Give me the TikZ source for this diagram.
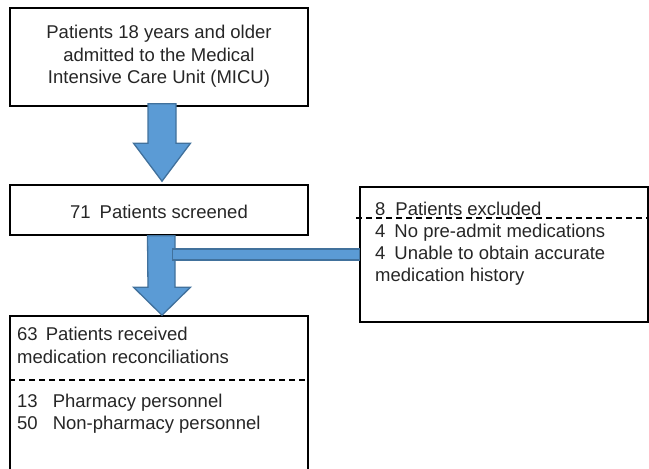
\documentclass[tikz,border=0pt]{standalone}
\usepackage{fontspec}
\setmainfont{Liberation Sans}
\usetikzlibrary{calc}
\definecolor{arrfill}{HTML}{5B9BD5}
\definecolor{arrdraw}{HTML}{41719C}
\begin{document}
\begin{tikzpicture}[x=1pt,y=-1pt,
  box/.style={draw=black, line width=1.6pt, rectangle, inner sep=0pt},
  txt/.style={font=\fontsize{18.5}{22.5}\selectfont, inner sep=0pt, text=black!85},
  barrow/.style={fill=arrfill, draw=arrdraw, line width=1.3pt, line join=miter},
  sepline/.style={dash pattern=on 6pt off 4pt, line width=1.6pt}]
\useasboundingbox (0,0) rectangle (649,469);
\clip (0,0) rectangle (649,469);
% boxes
\node[box, minimum width=298pt, minimum height=98pt] (b1) at (159,57) {};
\node[box, minimum width=298pt, minimum height=50pt] (b2) at (159,210) {};
\node[box, minimum width=288pt, minimum height=135pt] (b3) at (504,254.5) {};
\node[box, minimum width=298pt, minimum height=170pt] (b4) at (159,401) {};
% texts
\node[txt, anchor=base] (t1a) at (159,38.5) {Patients 18 years and older};
\node[txt, anchor=base] (t1b) at (159,61) {admitted to the Medical};
\node[txt, anchor=base] (t1c) at (159,83.5) {Intensive Care Unit (MICU)};
\node[txt, anchor=base] (t2) at (159,218) {71\hspace{9pt}Patients screened};
\node[txt, anchor=base west] (t3a) at (375,215) {8\hspace{10pt}Patients excluded};
\node[txt, anchor=base west] (t3b) at (375,237) {4\hspace{9pt}No pre-admit medications};
\node[txt, anchor=base west] (t3c) at (375,259) {4\hspace{9pt}Unable to obtain accurate};
\node[txt, anchor=base west] (t3d) at (375,281) {medication history};
\node[txt, anchor=base west] (t4a) at (17,340) {63\hspace{8pt}Patients received};
\node[txt, anchor=base west] (t4b) at (17,363) {medication reconciliations};
\node[txt, anchor=base west] (t4c) at (17,407) {13\hspace{15pt}Pharmacy personnel};
\node[txt, anchor=base west] (t4d) at (17,429) {50\hspace{15pt}Non-pharmacy personnel};
% dashed separators
\draw[sepline] ($(b3.north west)+(-3,32)$) -- ($(b3.north east)+(2,32)$);
\draw[sepline] ($(b4.north west)+(0,65)$) -- ($(b4.north east)+(0,65)$);
% block arrow 1
\coordinate (a1s) at ($(b1.south)+(3,-3)$);
\coordinate (a1t) at ($(b2.north)+(3,-3)$);
\draw[barrow] ($(a1s)+(-14,0)$) -- ($(a1s)+(14,0)$) -- ($(a1t)+(14,-38)$) -- ($(a1t)+(28.5,-38)$)
  -- (a1t) -- ($(a1t)+(-28.5,-38)$) -- ($(a1t)+(-14,-38)$) -- cycle;
% block arrow 2
\coordinate (a2s) at ($(b2.south)+(2,0)$);
\coordinate (a2t) at ($(b4.north)+(3,0)$);
\draw[barrow] ($(a2s)+(-13.5,0)$) -- ($(a2s)+(14,0)$) -- ($(a2t)+(13,-28)$) -- ($(a2t)+(28.5,-28)$)
  -- (a2t) -- ($(a2t)+(-28.5,-28)$) -- ($(a2t)+(-14,-28)$) -- cycle;
% side bar to exclusion box
\draw[barrow] ($(b3.west)+(-187,-5.5)$) rectangle ($(b3.west)+(0,5.5)$);
\end{tikzpicture}
\end{document}
